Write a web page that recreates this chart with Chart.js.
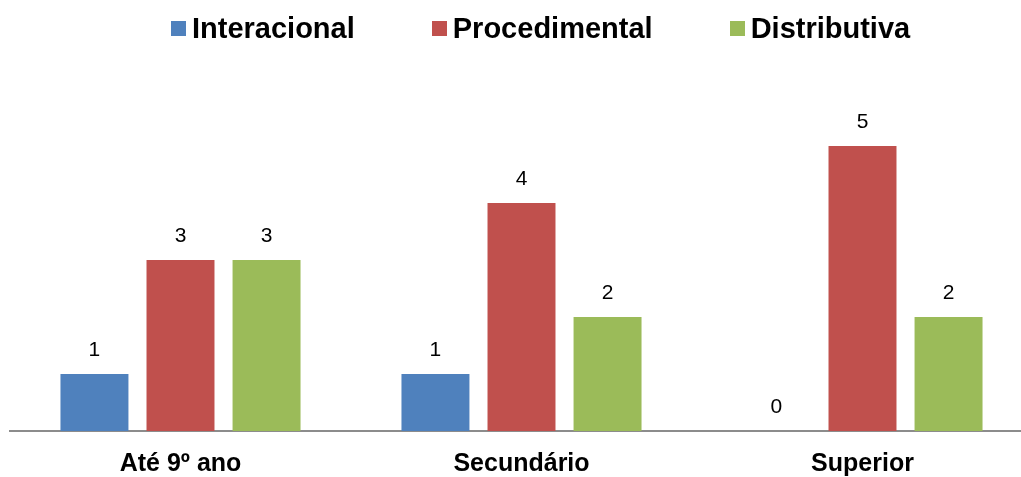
<!DOCTYPE html>
<html>
<head>
<meta charset="utf-8">
<script src="https://cdn.jsdelivr.net/npm/chart.js@4.4.1/dist/chart.umd.min.js"></script>
<style>
  body { margin: 0; background: #fff; overflow: hidden; }
  #outer { position: relative; width: 1021px; height: 477px; overflow: hidden; }
  #wrap { position: absolute; left: 0; top: 0; width: 1033px; height: 477px; }
  #legend {
    position: absolute; top: 12px; left: 171px;
    display: flex; gap: 77px;
    font: bold 29px "Liberation Sans", Arial, sans-serif; line-height: 32px;
    color: #000;
  }
  #legend .item { display: flex; align-items: center; }
  #legend .box { width: 15px; height: 15px; margin-right: 6px; }
</style>
</head>
<body>
<div id="outer">
  <div id="wrap"><canvas id="chart"></canvas></div>
  <div id="legend"></div>
</div>
<script>
const categories = ["Até 9º ano", "Secundário", "Superior"];
const interacional = [1, 1, 0];
const procedimental = [3, 4, 5];
const distributiva = [3, 2, 2];

// legend built from the chart's own items, drawn as html
const htmlLegend = {
  id: "htmlLegend",
  afterUpdate(chart) {
    const box = document.getElementById("legend");
    box.innerHTML = "";
    const items = chart.options.plugins.legend.labels.generateLabels(chart);
    items.forEach(item => {
      const el = document.createElement("div");
      el.className = "item";
      const sw = document.createElement("span");
      sw.className = "box";
      sw.style.background = item.fillStyle;
      const txt = document.createElement("span");
      txt.textContent = item.text;
      el.appendChild(sw);
      el.appendChild(txt);
      box.appendChild(el);
    });
  }
};

// value labels above bars
const valueLabels = {
  id: "valueLabels",
  afterDatasetsDraw(chart) {
    const ctx = chart.ctx;
    ctx.save();
    ctx.font = '21px "Liberation Sans", Arial, sans-serif';
    ctx.fillStyle = "#000";
    ctx.textAlign = "center";
    ctx.textBaseline = "middle";
    chart.data.datasets.forEach((ds, i) => {
      chart.getDatasetMeta(i).data.forEach((bar, j) => {
        ctx.fillText(String(ds.data[j]), bar.x, bar.y - 24);
      });
    });
    ctx.restore();
  }
};

new Chart(document.getElementById("chart"), {
  type: "bar",
  data: {
    labels: categories,
    datasets: [
      { label: "Interacional", data: interacional, backgroundColor: "#4F81BD" },
      { label: "Procedimental", data: procedimental, backgroundColor: "#C0504D" },
      { label: "Distributiva", data: distributiva, backgroundColor: "#9BBB59" },
    ],
  },
  options: {
    responsive: true,
    maintainAspectRatio: false,
    animation: false,
    categoryPercentage: 0.757,
    barPercentage: 0.79,
    layout: { padding: { top: 89, left: 10, right: 0, bottom: 0 } },
    plugins: {
      legend: { display: false },
      tooltip: { enabled: false },
    },
    scales: {
      x: {
        grid: { display: false, drawTicks: false },
        border: { color: "#8c8c8c", width: 2 },
        ticks: {
          color: "#000",
          padding: 18,
          font: { family: '"Liberation Sans", Arial, sans-serif', size: 25, weight: "bold" },
        },
        afterFit(scale) { scale.height = 46; },
      },
      y: { display: false, min: 0, max: 6 },
    },
  },
  plugins: [htmlLegend, valueLabels],
});
</script>
</body>
</html>
